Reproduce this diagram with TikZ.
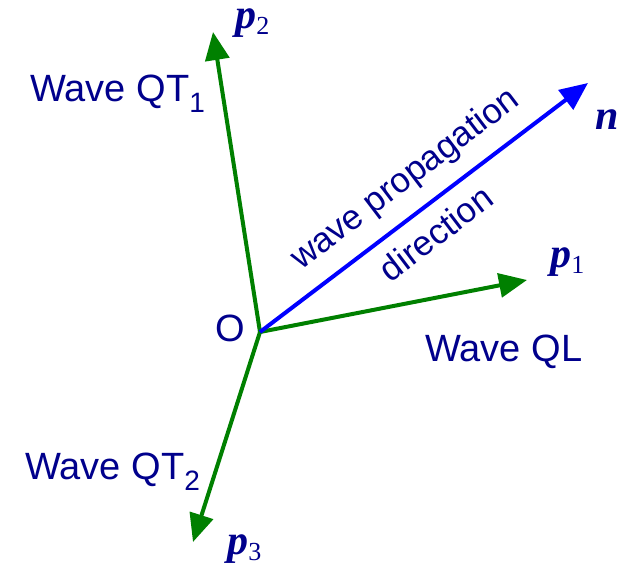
\documentclass[tikz,border=0pt]{standalone}
\usepackage{fontspec}
\setmainfont{Liberation Serif}
\setsansfont{Liberation Sans}
\usepackage{tikz}
\usetikzlibrary{arrows.meta}
\definecolor{label_blue}{RGB}{0,0,140}
\definecolor{vec_green}{RGB}{0,128,0}
\newcommand{\wavesub}[1]{\raisebox{-5.5pt}{\fontsize{14}{14}\selectfont #1}}
\newcommand{\vecsub}[2]{{\bfseries\itshape #1}\raisebox{-3pt}{\fontsize{13}{13}\selectfont\mdseries\upshape #2}}
\tikzset{
    wave_label/.style={
        text=label_blue,                          % text colour
        font=\sffamily\fontsize{19}{22}\selectfont,
        inner sep=0pt,
        anchor=base west
    },
    vec_label/.style={
        text=label_blue,
        font=\fontsize{21}{24}\selectfont,
        inner sep=0pt,
        anchor=base west
    },
    dir_label/.style={
        text=label_blue,
        font=\sffamily\fontsize{17.5}{20}\selectfont,
        sloped
    },
    green_arrow/.style={
        draw=vec_green,
        line width=2pt,
        -{Triangle[length=14pt,width=12pt]}
    },
    blue_arrow/.style={
        draw=blue,
        line width=2pt,
        -{Triangle[length=14pt,width=12pt]}
    }
}

\begin{document}
\begin{tikzpicture}[x=0.5pt, y=-0.5pt]
    \useasboundingbox (0,0) rectangle (623,567);
    % 1. origin and arrow tips
    \coordinate (o) at (260,332);
    \coordinate (n_tip) at (588,83);
    \coordinate (p1_tip) at (527,280);
    \coordinate (p2_tip) at (213,32);
    \coordinate (p3_tip) at (193,542);

    % 2. arrows
    \draw[green_arrow] (o) -- (p2_tip);
    \draw[green_arrow] (o) -- (p1_tip);
    \draw[green_arrow] (o) -- (p3_tip);
    \draw[blue_arrow] (o) -- (n_tip)
        node[dir_label, pos=0.505, above=4pt] (dir_top) {wave propagation}
        node[dir_label, pos=0.485, below=3pt] (dir_bot) {direction};

    % 3. labels
    \node[wave_label] (o_lab) at (215,342) {O};
    \node[wave_label] (qt1) at (30,102) {Wave QT\wavesub{1}};
    \node[wave_label] (qt2) at (25,480) {Wave QT\wavesub{2}};
    \node[wave_label] (ql) at (425,362) {Wave QL};
    \node[vec_label] (p1) at (550,268) {\vecsub{p}{1}};
    \node[vec_label] (p2) at (235,29) {\vecsub{p}{2}};
    \node[vec_label] (p3) at (227,555) {\vecsub{p}{3}};
    \node[vec_label] (n) at (595,130) {\textbf{\textit{n}}};
\end{tikzpicture}
\end{document}
